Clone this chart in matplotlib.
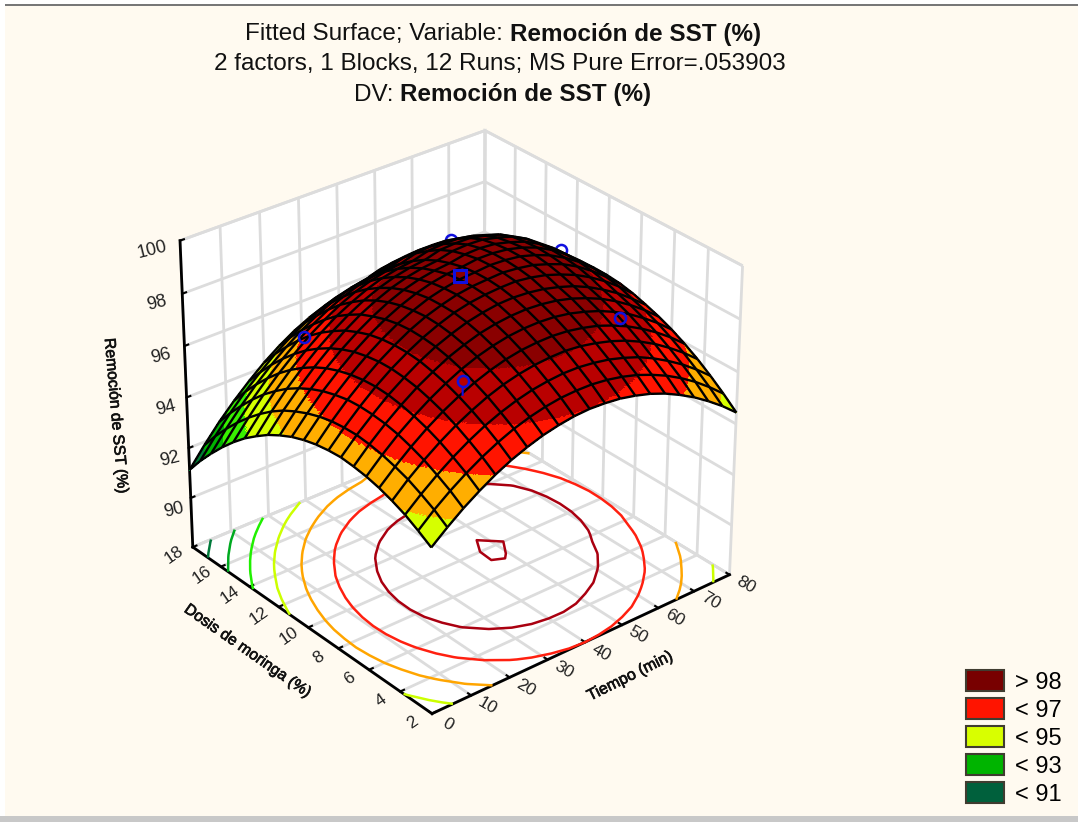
#!/usr/bin/env python

import matplotlib
matplotlib.use("Agg")
import matplotlib.patheffects as pe
import matplotlib.pyplot as plt
import numpy as np
from matplotlib.colors import BoundaryNorm, ListedColormap
from matplotlib.patches import Patch, Rectangle
from mpl_toolkits.mplot3d import proj3d
from mpl_toolkits.mplot3d.art3d import Line3DCollection

plt.rcParams["font.family"] = ["Liberation Sans", "DejaVu Sans"]

BG = "#fffaf0"

TIEMPO = [0, 4, 8, 12, 16, 20, 24, 28, 32, 36, 40, 44, 48, 52, 56, 60, 64, 68, 72, 76, 80]
DOSIS = [2.0, 2.8, 3.6, 4.4, 5.2, 6.0, 6.8, 7.6, 8.4, 9.2, 10.0, 10.8, 11.6, 12.4, 13.2, 14.0, 14.8, 15.6, 16.4, 17.2, 18.0]
# one row per tiempo, one column per dosis
REMOCION = [
    [94.36, 94.67, 94.95, 95.16, 95.33, 95.45, 95.52, 95.56, 95.52, 95.44, 95.31, 95.13, 94.89, 94.61, 94.26, 93.88, 93.43, 92.93, 92.38, 91.79, 91.13],
    [94.85, 95.19, 95.46, 95.70, 95.87, 96.01, 96.10, 96.15, 96.13, 96.07, 95.95, 95.78, 95.56, 95.30, 94.97, 94.58, 94.14, 93.65, 93.11, 92.52, 91.87],
    [95.30, 95.64, 95.92, 96.17, 96.36, 96.52, 96.62, 96.67, 96.68, 96.64, 96.53, 96.38, 96.17, 95.91, 95.60, 95.22, 94.80, 94.31, 93.77, 93.19, 92.55],
    [95.69, 96.04, 96.33, 96.59, 96.80, 96.96, 97.08, 97.16, 97.18, 97.14, 97.05, 96.91, 96.72, 96.47, 96.16, 95.80, 95.38, 94.90, 94.37, 93.79, 93.15],
    [96.04, 96.39, 96.69, 96.96, 97.18, 97.35, 97.49, 97.57, 97.61, 97.59, 97.51, 97.39, 97.20, 96.96, 96.66, 96.31, 95.89, 95.42, 94.90, 94.32, 93.69],
    [96.33, 96.69, 97.00, 97.27, 97.50, 97.69, 97.83, 97.94, 97.98, 97.97, 97.91, 97.80, 97.62, 97.40, 97.10, 96.76, 96.36, 95.89, 95.37, 94.81, 94.18],
    [96.56, 96.94, 97.25, 97.54, 97.77, 97.98, 98.14, 98.25, 98.30, 98.31, 98.26, 98.15, 97.98, 97.78, 97.49, 97.16, 96.75, 96.29, 95.78, 95.22, 94.60],
    [96.75, 97.13, 97.45, 97.75, 97.99, 98.21, 98.37, 98.49, 98.56, 98.58, 98.53, 98.44, 98.29, 98.08, 97.81, 97.47, 97.09, 96.63, 96.12, 95.57, 94.96],
    [96.88, 97.27, 97.60, 97.90, 98.16, 98.38, 98.56, 98.69, 98.77, 98.78, 98.76, 98.67, 98.53, 98.33, 98.06, 97.74, 97.36, 96.91, 96.41, 95.86, 95.25],
    [96.97, 97.36, 97.69, 98.00, 98.27, 98.50, 98.68, 98.82, 98.91, 98.94, 98.91, 98.84, 98.70, 98.51, 98.25, 97.94, 97.56, 97.12, 96.63, 96.08, 95.48],
    [97.00, 97.39, 97.74, 98.05, 98.32, 98.56, 98.75, 98.91, 98.99, 99.03, 99.02, 98.95, 98.81, 98.63, 98.38, 98.07, 97.70, 97.26, 96.77, 96.24, 95.64],
    [96.97, 97.38, 97.73, 98.06, 98.33, 98.57, 98.77, 98.93, 99.03, 99.07, 99.06, 99.00, 98.87, 98.70, 98.46, 98.15, 97.78, 97.35, 96.87, 96.34, 95.75],
    [96.90, 97.31, 97.66, 98.00, 98.28, 98.53, 98.73, 98.89, 99.04, 99.10, 99.11, 99.08, 98.98, 98.84, 98.62, 98.31, 97.96, 97.53, 97.05, 96.53, 95.95],
    [96.77, 97.19, 97.55, 97.88, 98.17, 98.43, 98.64, 98.80, 98.96, 99.04, 99.08, 99.07, 99.00, 98.87, 98.65, 98.36, 98.01, 97.59, 97.12, 96.60, 96.02],
    [96.60, 97.02, 97.38, 97.72, 98.02, 98.27, 98.49, 98.65, 98.83, 98.94, 99.00, 99.00, 98.94, 98.84, 98.64, 98.35, 98.00, 97.59, 97.13, 96.61, 96.04],
    [96.37, 96.79, 97.17, 97.51, 97.80, 98.07, 98.28, 98.46, 98.63, 98.75, 98.83, 98.85, 98.79, 98.70, 98.51, 98.24, 97.89, 97.48, 97.02, 96.52, 95.95],
    [96.08, 96.52, 96.89, 97.24, 97.54, 97.81, 98.03, 98.20, 98.39, 98.53, 98.60, 98.63, 98.59, 98.52, 98.34, 98.06, 97.72, 97.32, 96.87, 96.37, 95.81],
    [95.75, 96.19, 96.56, 96.92, 97.22, 97.50, 97.71, 97.88, 98.08, 98.22, 98.29, 98.32, 98.29, 98.22, 98.04, 97.76, 97.44, 97.04, 96.59, 96.10, 95.55],
    [95.36, 95.81, 96.19, 96.54, 96.85, 97.12, 97.34, 97.52, 97.71, 97.83, 97.91, 97.93, 97.90, 97.81, 97.63, 97.37, 97.05, 96.66, 96.22, 95.73, 95.18],
    [94.93, 95.37, 95.76, 96.12, 96.43, 96.70, 96.92, 97.09, 97.28, 97.38, 97.45, 97.45, 97.41, 97.30, 97.12, 96.86, 96.54, 96.16, 95.73, 95.24, 94.70],
    [94.44, 94.88, 95.28, 95.64, 95.95, 96.22, 96.44, 96.62, 96.78, 96.89, 96.94, 96.95, 96.89, 96.79, 96.58, 96.34, 96.03, 95.65, 95.22, 94.75, 94.21],
]

BAND_LEVELS = [80, 91, 92, 93, 94, 95, 96, 97, 98, 110]
BAND_COLORS = ["#00603c", "#007f35", "#00b400", "#38f000", "#d6ff00", "#ffae00", "#ff1400", "#b90000", "#8a0000"]
RING_LEVELS = [92, 93, 94, 95, 96, 97, 98, 99.08]
RING_COLORS = ["#007a3a", "#00aa20", "#20f000", "#ccff00", "#ffa500", "#ff2010", "#aa0010", "#aa0010"]

# design points in front of the surface and behind its crest
PTS_FRONT_T = [21, 62, 14.5]
PTS_FRONT_D = [5.2, 5.2, 13.7]
PTS_FRONT_Z = [98.0, 97.95, 97.0]
PTS_CENTER_T = [40]
PTS_CENTER_D = [10]
PTS_CENTER_Z = [99.15]
PTS_BACK_T = [31, 60.4, 67]
PTS_BACK_D = [15, 15.5, 10]
PTS_BACK_Z = [97.2, 97.55, 98.65]

TICKS_T = [0, 10, 20, 30, 40, 50, 60, 70, 80]
TICKS_D = [2, 4, 6, 8, 10, 12, 14, 16, 18]
TICKS_Z = [90, 92, 94, 96, 98, 100]

LEGEND_LABELS = ["> 98", "< 97", "< 95", "< 93", "< 91"]
LEGEND_COLORS = ["#780000", "#ff1400", "#d8ff00", "#00b400", "#00603c"]

ELEV = 30
AZIM = -129.5


def px(x, y):
    return x / 1078, 1 - y / 822


def upsample(z, n):
    # finer facets only so that the colour bands have smooth edges
    z = np.asarray(z)
    rows = np.linspace(0, z.shape[0] - 1, (z.shape[0] - 1) * n + 1)
    cols = np.linspace(0, z.shape[1] - 1, (z.shape[1] - 1) * n + 1)
    by_col = np.array([np.interp(rows, np.arange(z.shape[0]), z[:, j]) for j in range(z.shape[1])]).T
    return np.array([np.interp(cols, np.arange(z.shape[1]), r) for r in by_col])


def visible_wire(t, d, z):
    # keep the mesh segments on the side of the dome that faces the camera
    dzt, dzd = np.gradient(z, t, d)
    nx, ny, nz = -dzt / 12 * 80, -dzd / 12 * 16, np.ones_like(z)
    el, az = np.radians(ELEV), np.radians(AZIM)
    view = np.array([np.cos(el) * np.cos(az), np.cos(el) * np.sin(az), np.sin(el)])
    facing = nx * view[0] + ny * view[1] + nz * view[2] > 0
    segs = []
    for i in range(len(t)):
        for j in range(len(d)):
            p = (t[i], d[j], z[i, j])
            if i + 1 < len(t) and (facing[i, j] or facing[i + 1, j]):
                segs.append([p, (t[i + 1], d[j], z[i + 1, j])])
            if j + 1 < len(d) and (facing[i, j] or facing[i, j + 1]):
                segs.append([p, (t[i], d[j + 1], z[i, j + 1])])
    return segs


def tick_text(ax, x, y, z, label, rotation, size):
    # Text3D drops the rotation, so project the spot and place it as 2D text
    sx, sy, _ = proj3d.proj_transform(x, y, z, ax.get_proj())
    ax.text2D(sx, sy, label, transform=ax.transData, ha="center", va="center",
              rotation=rotation, fontsize=size, color="#222222")


def main():
    t = np.array(TIEMPO, dtype=float)
    d = np.array(DOSIS, dtype=float)
    z = np.array(REMOCION, dtype=float)

    fig = plt.figure(figsize=(10.78, 8.22), dpi=100, facecolor=BG)
    ax = fig.add_axes([-0.084, -0.013, 1.0, 1.0], projection="3d", computed_zorder=False)
    ax.set_facecolor("none")
    ax.view_init(elev=ELEV, azim=AZIM)
    ax.set_proj_type("persp", focal_length=0.85)
    ax.set_box_aspect((1, 1, 0.91), zoom=0.775)
    ax.set_xlim(0, 80, view_margin=0)
    ax.set_ylim(2, 18, view_margin=0)
    ax.set_zlim(88, 100, view_margin=0)

    ax.set_xticks(TICKS_T)
    ax.set_yticks(TICKS_D)
    ax.set_zticks(TICKS_Z)
    ax.set_xticklabels([])
    ax.set_yticklabels([])
    ax.set_zticklabels([])

    for axis in (ax.xaxis, ax.yaxis, ax.zaxis):
        axis.set_pane_color((1, 1, 1, 1))
        axis.pane.set_edgecolor("#dcdcdc")
        axis.pane.set_linewidth(2)
        axis.line.set_color("black")
        axis.line.set_linewidth(2)
        axis._axinfo["grid"].update(color="#dcdcdc", linewidth=2)
        axis._axinfo["tick"].update(inward_factor=0, outward_factor=0.15, linewidth={True: 1.5, False: 1})
    ax.zaxis.set_ticks_position("upper")
    ax.zaxis.set_label_position("upper")

    for v in TICKS_T:
        tick_text(ax, v, 1.0, 88, str(v), -30, 12.5)
    for v in TICKS_D:
        tick_text(ax, -5, v, 88, str(v), 35, 12.5)
    for v in TICKS_Z:
        tick_text(ax, 0, 19.3 + (v - 90) * 0.07, v - 1.0, str(v), 14, 13)

    tt, dd = np.meshgrid(t, d, indexing="ij")
    ax.contour(tt, dd, z, levels=RING_LEVELS, colors=RING_COLORS, linewidths=1.8, zdir="z", offset=88, zorder=1)

    ax.plot(PTS_BACK_T, PTS_BACK_D, PTS_BACK_Z, ls="none", marker="o", mfc="none", mec="#1010e0", mew=1.8, ms=8, zorder=1.5)

    n = 12
    fine_z = upsample(z, n)
    fine_t = np.linspace(t[0], t[-1], fine_z.shape[0])
    fine_d = np.linspace(d[0], d[-1], fine_z.shape[1])
    ft, fd = np.meshgrid(fine_t, fine_d, indexing="ij")
    cmap = ListedColormap(BAND_COLORS)
    norm = BoundaryNorm(BAND_LEVELS, cmap.N)
    # colour of a facet comes from its centre
    centre = (fine_z[:-1, :-1] + fine_z[1:, :-1] + fine_z[:-1, 1:] + fine_z[1:, 1:]) / 4
    face = cmap(norm(centre))
    ax.plot_surface(ft, fd, fine_z, rstride=1, cstride=1, facecolors=face, shade=False,
                    linewidth=0.3, antialiased=False, zorder=2)

    wire = Line3DCollection(visible_wire(t, d, z), colors="black", linewidths=1.7, zorder=3)
    ax.add_collection3d(wire)

    ax.plot(PTS_FRONT_T, PTS_FRONT_D, PTS_FRONT_Z, ls="none", marker="o", mfc="none", mec="#1010e0", mew=1.8, ms=8, zorder=4)
    ax.plot(PTS_CENTER_T, PTS_CENTER_D, PTS_CENTER_Z, ls="none", marker="s", mfc="none", mec="#1010e0", mew=2.2, ms=8, zorder=4)
    # short stem under the front point
    ax.plot([PTS_FRONT_T[0]] * 2, [PTS_FRONT_D[0]] * 2, [PTS_FRONT_Z[0] - 0.25, PTS_FRONT_Z[0] - 0.5], color="#1010e0", lw=1.5, zorder=4)

    fig.text(*px(510, 34), "Fitted Surface; Variable: ", ha="right", va="center", fontsize=17.5, color="#111111")
    fig.text(*px(510, 34), "Remoción de SST (%)", ha="left", va="center", fontsize=17.5, fontweight="bold", color="#111111")
    fig.text(*px(500, 64), "2 factors, 1 Blocks, 12 Runs; MS Pure Error=.053903", ha="center", va="center", fontsize=17.5, color="#111111")
    fig.text(*px(400, 95), "DV: ", ha="right", va="center", fontsize=17.5, color="#111111")
    fig.text(*px(400, 95), "Remoción de SST (%)", ha="left", va="center", fontsize=17.5, fontweight="bold", color="#111111")

    heavy = [pe.withStroke(linewidth=0.5, foreground="#111111")]
    fig.text(*px(116, 416), "Remoción de SST (%)", rotation=-85, ha="center", va="center", fontsize=11.3, color="#111111", path_effects=heavy)
    fig.text(*px(248, 651), "Dosis de moringa (%)", rotation=-35, ha="center", va="center", fontsize=11.3, color="#111111", path_effects=heavy)
    fig.text(*px(630, 676), "Tiempo (min)", rotation=26.5, ha="center", va="center", fontsize=11.5, color="#111111", path_effects=heavy)

    handles = [Patch(facecolor=c, edgecolor="#403c30", linewidth=1.5) for c in LEGEND_COLORS]
    fig.legend(handles, LEGEND_LABELS, loc="center left", bbox_to_anchor=px(966, 738), frameon=False,
               fontsize=17, handlelength=1.6, handleheight=0.95, handletextpad=0.47, labelspacing=0.2, borderpad=0, borderaxespad=0)

    # window edge left over from the screenshot
    fig.patches.extend([
        Rectangle((0, 1 - 5 / 822), 1, 5 / 822, transform=fig.transFigure, facecolor="white", edgecolor="none"),
        Rectangle((5 / 1078, 1 - 6 / 822), 1, 1.5 / 822, transform=fig.transFigure, facecolor="#777777", edgecolor="none"),
        Rectangle((0, 0), 5 / 1078, 1, transform=fig.transFigure, facecolor="white", edgecolor="none"),
        Rectangle((0, 0), 1, 6 / 822, transform=fig.transFigure, facecolor="#c8c8c8", edgecolor="none"),
    ])

    fig.savefig("out.png", dpi=100, facecolor=BG)


if __name__ == "__main__":
    main()
